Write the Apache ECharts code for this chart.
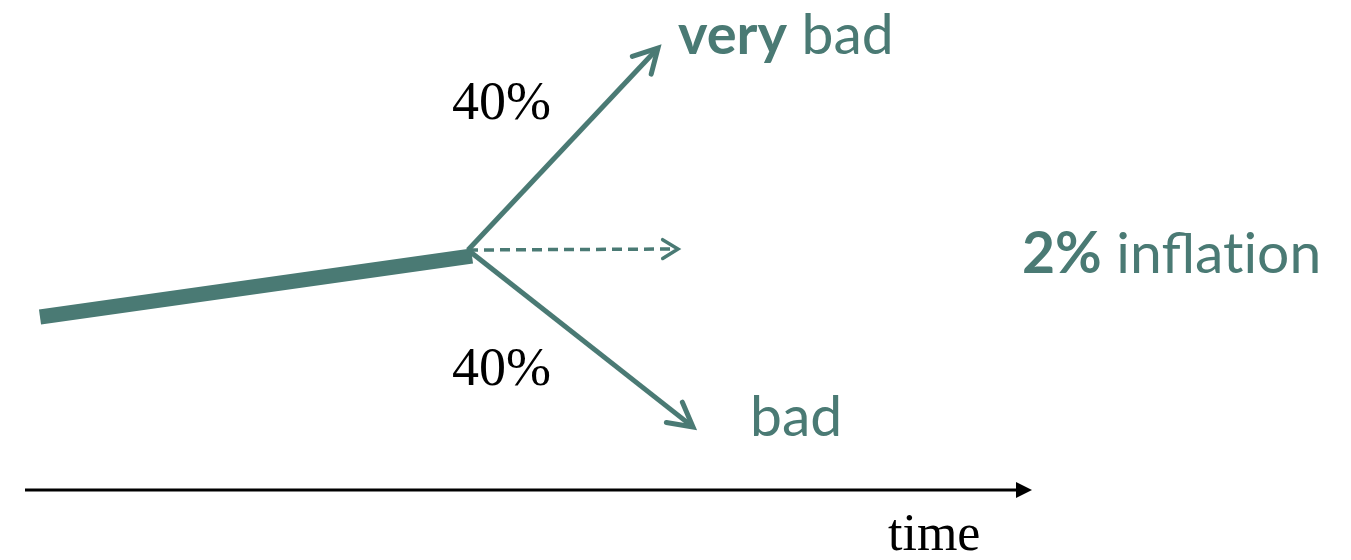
<!DOCTYPE html>
<html>
<head>
<meta charset="utf-8">
<script src="https://cdn.jsdelivr.net/npm/echarts@6/dist/echarts.min.js"></script>
<style>html,body{margin:0;padding:0;background:#fff}#c{width:1351px;height:560px}</style>
</head>
<body>
<div id="c"></div>
<script>
// Data (x = time, y = price level), in chart units
const historyPath = [[40, 243], [472, 304]];
const branchStart = [468, 310];
const scenarioNames = ['very bad', '2% inflation', 'bad'];
const scenarioEnds = [[658, 512], [678, 311], [693, 133]];
const scenarioKinds = [0, 1, 0]; // 0 solid arrow, 1 dashed arrow
const probabilityLabels = ['40%', '40%'];
const timeAxisPath = [[25, 70], [1032, 70]];

const TEAL = '#4a7a74';

const arrowData = scenarioEnds.map((e, i) => [branchStart[0], branchStart[1], e[0], e[1], scenarioKinds[i]]);
arrowData.push([timeAxisPath[0][0], timeAxisPath[0][1], timeAxisPath[1][0], timeAxisPath[1][1], 2]);

function renderArrow(params, api) {
  const p1 = api.coord([api.value(0), api.value(1)]);
  const p2 = api.coord([api.value(2), api.value(3)]);
  const kind = api.value(4);
  const ang = Math.atan2(p2[1] - p1[1], p2[0] - p1[0]);
  if (kind === 2) {
    const L = 16, W = 8;
    const bx = p2[0] - L * Math.cos(ang), by = p2[1] - L * Math.sin(ang);
    const nx = -Math.sin(ang), ny = Math.cos(ang);
    return {
      type: 'group',
      children: [
        { type: 'line', shape: { x1: p1[0], y1: p1[1], x2: bx, y2: by }, style: { stroke: '#000', lineWidth: 3 } },
        { type: 'polygon', shape: { points: [[p2[0], p2[1]], [bx + nx * W, by + ny * W], [bx - nx * W, by - ny * W]] }, style: { fill: '#000' } }
      ]
    };
  }
  const dashed = kind === 1;
  const L = dashed ? 18 : 27;
  const a = dashed ? 0.55 : 0.5;
  const lw = dashed ? 3.5 : 5;
  const c1 = [p2[0] - L * Math.cos(ang - a), p2[1] - L * Math.sin(ang - a)];
  const c2 = [p2[0] - L * Math.cos(ang + a), p2[1] - L * Math.sin(ang + a)];
  return {
    type: 'group',
    children: [
      { type: 'line', shape: { x1: p1[0], y1: p1[1], x2: p2[0] - 3 * Math.cos(ang), y2: p2[1] - 3 * Math.sin(ang) },
        style: { stroke: TEAL, lineWidth: lw, lineDash: dashed ? [10, 6] : null } },
      { type: 'polyline', shape: { points: [c1, p2, c2] },
        style: { stroke: TEAL, lineWidth: lw, fill: null, lineCap: 'round', lineJoin: 'miter' } }
    ]
  };
}

const chart = echarts.init(document.getElementById('c'), null, { renderer: 'canvas' });
chart.setOption({
  animation: false,
  backgroundColor: '#fff',
  grid: { left: 0, right: 0, top: 0, bottom: 0 },
  xAxis: { type: 'value', min: 0, max: 1351, show: false },
  yAxis: { type: 'value', min: 0, max: 560, show: false },
  series: [
    {
      type: 'line', data: historyPath, symbol: 'none', silent: true,
      lineStyle: { color: TEAL, width: 15, cap: 'butt' }
    },
    {
      type: 'custom', data: arrowData, renderItem: renderArrow, silent: true,
      encode: { x: [0, 2], y: [1, 3] }
    }
  ],
  graphic: [
    { type: 'text', left: 452, top: 78, style: { text: probabilityLabels[0], font: '54px "Liberation Serif", serif', fill: '#000' } },
    { type: 'text', left: 452, top: 344, style: { text: probabilityLabels[1], font: '54px "Liberation Serif", serif', fill: '#000' } },
    { type: 'text', left: 678, top: 7, style: {
        text: '{b|very}{n| bad}', rich: {
          b: { fontFamily: 'Lato', fontWeight: 'bold', fontSize: 56, fill: TEAL, color: TEAL },
          n: { fontFamily: 'Lato', fontSize: 57, fill: TEAL, color: TEAL } } } },
    { type: 'text', left: 750, top: 389, style: { text: 'bad', font: '57px Lato', fill: TEAL } },
    { type: 'text', left: 1022, top: 226, style: {
        text: '{b|2%}{n| inflat\u200Cion}', rich: {
          b: { fontFamily: 'Lato', fontWeight: 'bold', fontSize: 57, fill: TEAL, color: TEAL },
          n: { fontFamily: 'Lato', fontSize: 57, fill: TEAL, color: TEAL } } } },
    { type: 'text', left: 888, top: 510, style: { text: 'time', font: '52px "Liberation Serif", serif', fill: '#000' } }
  ]
});
</script>
</body>
</html>
